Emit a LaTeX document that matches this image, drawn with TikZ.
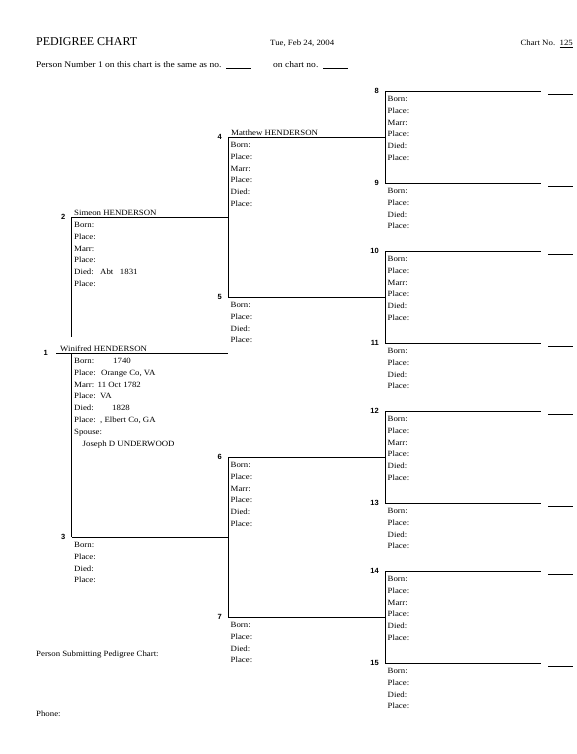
\documentclass[tikz,border=0pt]{standalone}
\usepackage{fontspec}
\setmainfont{Liberation Serif}
\setsansfont{Liberation Sans}
\newfontfamily\formfont{Liberation Serif}[FakeStretch=1.1]
\usetikzlibrary{positioning}

\tikzset{
  field/.style={anchor=base west, inner sep=0pt, font=\formfont\fontsize{8}{9}\selectfont},
  gennum/.style={anchor=base east, inner sep=0pt, font=\sffamily\bfseries\fontsize{7.5}{9}\selectfont},
  famline/.style={line width=0.9pt},
}

\begin{document}
\begin{tikzpicture}[x=1pt,y=-1pt]
    \useasboundingbox (0,0) rectangle (576,754);
    % header
    \node[anchor=base west, inner sep=0pt, font=\fontsize{12}{14}\selectfont] (title) at (36,46) {PEDIGREE CHART};
    \node[field] (date) at (270,46) {Tue, Feb 24, 2004};
    \node[field, anchor=base east] (chartno) at (573,46) {Chart No.\ \ \underline{125}};
    \node[field, font=\formfont\fontsize{8.65}{9}\selectfont] (same) at (36,68) {Person Number 1 on this chart is the same as no.\ \ \rule[-1pt]{25pt}{0.6pt}};
    \node[field, font=\formfont\fontsize{8.65}{9}\selectfont] (onchart) at (273,68) {on chart no.\ \ \rule[-1pt]{25pt}{0.6pt}};

    % generation 1 and 2
    \coordinate (p1a) at (56,353);   \coordinate (p1b) at (228,353);
    \coordinate (p2a) at (71.5,217); \coordinate (p2b) at (228,217);
    \coordinate (p3a) at (71.5,537); \coordinate (p3b) at (228,537);
    \coordinate (gap2) at (71.5,337); \coordinate (join1) at (71.5,353);
    \draw[famline] (p1a) -- (p1b);
    \draw[famline] (p2a) -- (p2b);
    \draw[famline] (p3a) -- (p3b);
    \draw[famline] (p2a) -- (gap2);
    \draw[famline] (join1) -- (p3a);

    % generation 3
    \foreach \n/\y in {4/137,5/297,6/457,7/617} {
        \coordinate (p\n a) at (228,\y);
        \coordinate (p\n b) at (385,\y);
        \draw[famline] (p\n a) -- (p\n b);
    }
    \draw[famline] (p4a) -- (p5a);
    \draw[famline] (p6a) -- (p7a);

    % generation 4
    \foreach \n/\y in {8/91,9/183,10/251,11/343,12/411,13/503,14/571,15/663} {
        \coordinate (p\n a) at (385,\y);
        \coordinate (p\n b) at (541,\y);
        \coordinate (q\n a) at (548,\y+3);
        \coordinate (q\n b) at (573,\y+3);
        \draw[famline] (p\n a) -- (p\n b);
        \draw[famline] (q\n a) -- (q\n b);
    }
    \draw[famline] (p8a) -- (p9a);
    \draw[famline] (p10a) -- (p11a);
    \draw[famline] (p12a) -- (p13a);
    \draw[famline] (p14a) -- (p15a);

    % numbers
    \node[gennum] (n1) at ([shift={(-8,2.5)}]p1a) {1};
    \foreach \n in {2,...,15}
        \node[gennum] (n\n) at ([shift={(-6,2.5)}]p\n a) {\n};

    % names
    \node[field] (name1) at ([shift={(4,-1.5)}]p1a) {Winifred HENDERSON};
    \node[field] (name2) at ([shift={(2.5,-1.5)}]p2a) {Simeon HENDERSON};
    \node[field] (name4) at ([shift={(3,-1.5)}]p4a) {Matthew HENDERSON};

    % fields
    \foreach \n in {2,4,6,8,10,12,14}
        \foreach \f [count=\i] in {Born:,Place:,Marr:,Place:,Died:,Place:}
            \node[field] (f\n-\i) at ([shift={(2.5,10.5+11.8*\i-11.8)}]p\n a) {\f};
    \foreach \n in {3,5,7,9,11,13,15}
        \foreach \f [count=\i] in {Born:,Place:,Died:,Place:}
            \node[field] (f\n-\i) at ([shift={(2.5,10.5+11.8*\i-11.8)}]p\n a) {\f};
    \foreach \f [count=\i] in {Born:,Place:,Marr:,Place:,Died:,Place:,Spouse:}
        \node[field] (f1-\i) at ([shift={(2.5,10.5+11.8*\i-11.8)}]join1) {\f};
    \node[field] (spouse1) at ([shift={(11,10.5+11.8*7)}]join1) {Joseph D UNDERWOOD};

    % values
    \node[field] (v1-1) at (113,363.5) {1740};
    \node[field] (v1-2) at (101,375.3) {Orange Co, VA};
    \node[field] (v1-3) at (97.5,387.1) {11 Oct 1782};
    \node[field] (v1-4) at (100,398.9) {VA};
    \node[field] (v1-5) at (112,410.7) {1828};
    \node[field] (v1-6) at (100,422.5) {, Elbert Co, GA};
    \node[field] (v2-5) at (100,274.7) {Abt\ \ \ 1831};

    % footer
    \node[field] (submit) at (36,656) {Person Submitting Pedigree Chart:};
    \node[field] (phone) at (36,716) {Phone:};
\end{tikzpicture}
\end{document}
